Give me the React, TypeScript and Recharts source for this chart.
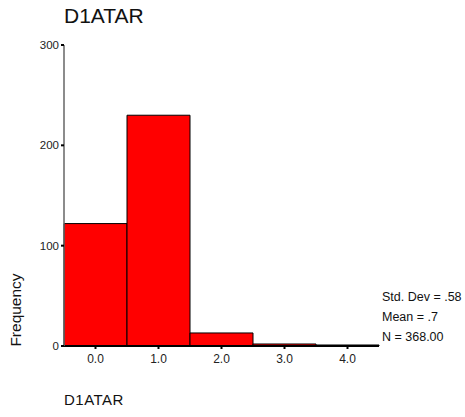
import { BarChart, Bar, XAxis, YAxis } from 'recharts';

const categories = ['0.0', '1.0', '2.0', '3.0', '4.0'];
const frequencies = [122, 230, 13, 2, 1];
const yTicks = [0, 100, 200, 300];
const stats = ['Std. Dev = .58', 'Mean = .7', 'N = 368.00'];

const data = categories.map((c, i) => ({ bin: c, count: frequencies[i] }));

const font = '"Liberation Sans", Arial, sans-serif';

export default function App() {
  return (
    <div style={{ position: 'absolute', left: 0, top: 0, width: 465, height: 417, background: '#fff', fontFamily: font }}>
      <BarChart
        width={465}
        height={417}
        data={data}
        margin={{ top: 45, right: 86, bottom: 41, left: 4 }}
        barCategoryGap={0}
        barGap={0}
      >
        <XAxis
          dataKey="bin"
          height={30}
          tickLine={{ stroke: '#000', strokeWidth: 2 }}
          tickSize={3}
          axisLine={{ stroke: '#000', strokeWidth: 2 }}
          tick={{ fill: '#222', fontSize: 12, fontFamily: font }}
          tickMargin={5}
        />
        <YAxis
          width={60}
          domain={[0, 300]}
          ticks={yTicks}
          tickLine={{ stroke: '#000', strokeWidth: 2 }}
          tickSize={3}
          axisLine={{ stroke: '#666', strokeWidth: 1.5 }}
          tick={{ fill: '#222', fontSize: 11.5, fontFamily: font }}
          tickMargin={2}
        />
        <Bar dataKey="count" fill="#ff0000" stroke="#000" strokeWidth={1} isAnimationActive={false} />
      </BarChart>
      <div style={{ position: 'absolute', left: 64, top: 4, fontSize: 21, lineHeight: '24px', color: '#111' }}>D1ATAR</div>
      <div
        style={{
          position: 'absolute',
          left: 15.5,
          top: 310,
          fontSize: 15.5,
          color: '#111',
          transform: 'translate(-50%, -50%) rotate(-90deg)',
          whiteSpace: 'nowrap',
        }}
      >
        Frequency
      </div>
      {stats.map((s, i) => (
        <div
          key={s}
          style={{ position: 'absolute', left: 382, top: 297 + i * 20, fontSize: 12.5, lineHeight: '14px', transform: 'translateY(-50%)', color: '#111', whiteSpace: 'nowrap' }}
        >
          {s}
        </div>
      ))}
      <div style={{ position: 'absolute', left: 64, top: 391, fontSize: 15, lineHeight: '18px', letterSpacing: 0.5, color: '#111' }}>D1ATAR</div>
    </div>
  );
}
